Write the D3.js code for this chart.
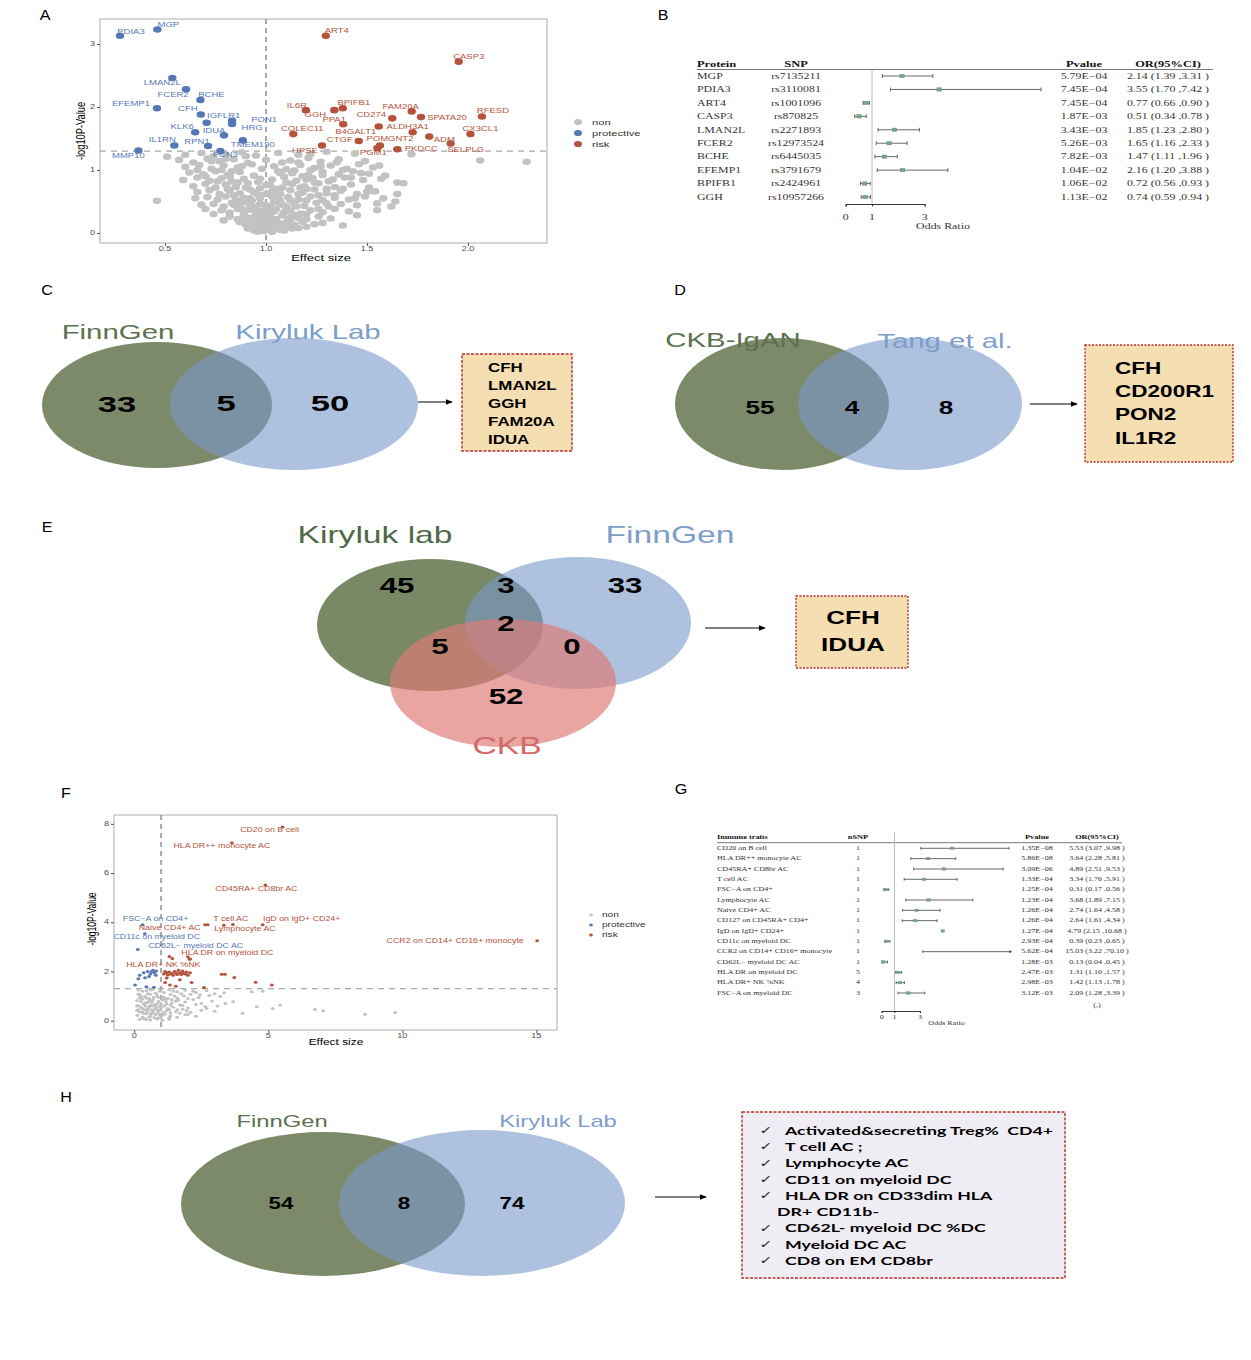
<!DOCTYPE html>
<html>
<head>
<meta charset="utf-8">
<script src="https://cdn.jsdelivr.net/npm/d3@7.9.0/dist/d3.min.js"></script>
<style>
  body { margin: 0; background: #fff; }
  svg { display: block; }
  text { white-space: pre; }
</style>
</head>
<body>
<svg id="fig" width="1251" height="1360"></svg>
<script>
// ---------- data ----------
// Panel A: volcano of proteins (effect size vs -log10 p)
const protNamesA = ['PDIA3','MGP','LMAN2L','FCER2','BCHE','EFEMP1','CFH','IGFLR1','PON1','HRG','KLK6','IDUA','TMEM190','IL1RN','RPN1','FCN3','MMP10'];
const protEffA   = [0.277,0.462,0.536,0.604,0.675,0.46,0.677,0.706,0.832,0.832,0.649,0.792,0.885,0.546,0.713,0.774,0.368];
const protLogPA  = [3.13,3.23,2.46,2.28,2.11,1.98,1.88,1.75,1.78,1.73,1.60,1.55,1.47,1.39,1.38,1.30,1.31];

const riskNamesA = ['ART4','CASP3','IL6R','GGH','BPIFB1','FAM20A','CD274','SPATA20','RFESD','PPA1','ALDH3A1','B4GALT1','CX3CL1','ADM','SELPLG','CTGF','POMGNT2','PGM1','PKDCC','HPSE','COLEC11'];
const riskEffA   = [1.296,1.954,1.197,1.338,1.38,1.721,1.625,1.767,2.069,1.382,1.726,1.558,2.012,1.808,1.914,1.459,1.564,1.551,1.65,1.277,1.135];
const riskLogPA  = [3.13,2.72,1.95,1.95,1.98,1.93,1.82,1.84,1.85,1.725,1.60,1.69,1.57,1.53,1.42,1.46,1.39,1.35,1.33,1.39,1.57];

const grayA = [
  [0.51,1.21],[0.60,1.24],[0.68,1.27],[0.74,1.22],[0.80,1.25],[0.88,1.28],[0.95,1.23],[1.06,1.27],[1.16,1.24],[1.30,1.29],[1.44,1.26],[1.72,1.25],[2.06,1.15],[2.29,1.13],
  [0.57,1.16],[0.64,1.12],[0.71,1.18],[0.77,1.14],[0.84,1.17],[0.91,1.11],[1.12,1.15],[1.21,1.19],[1.27,1.13],[1.36,1.17],[1.56,1.07],[1.49,1.14],
  [0.60,1.05],[0.67,1.08],[0.73,1.02],[0.79,1.07],[0.86,1.04],[0.93,1.09],[1.04,1.06],[1.10,1.01],[1.17,1.08],[1.24,1.03],[1.32,1.07],[1.40,1.02],[1.46,1.09],[1.53,1.04],
  [0.62,0.96],[0.69,0.93],[0.75,0.98],[0.81,0.92],[0.87,0.97],[0.94,0.91],[1.07,0.95],[1.14,0.99],[1.21,0.92],[1.28,0.97],[1.36,0.93],[1.43,0.98],[1.51,0.94],[1.59,0.91],
  [0.59,0.84],[0.66,0.88],[0.72,0.83],[0.78,0.87],[0.83,0.82],[0.89,0.86],[0.96,0.81],[1.03,0.85],[1.09,0.89],[1.15,0.83],[1.23,0.87],[1.31,0.82],[1.39,0.88],[1.48,0.84],[1.57,0.86],[1.65,0.80],
  [0.64,0.74],[0.70,0.78],[0.75,0.72],[0.80,0.77],[0.85,0.73],[0.91,0.79],[0.97,0.71],[1.02,0.76],[1.08,0.72],[1.13,0.78],[1.19,0.74],[1.26,0.79],[1.34,0.73],[1.42,0.77],[1.51,0.72],[1.68,0.79],
  [0.66,0.65],[0.72,0.68],[0.77,0.62],[0.82,0.67],[0.87,0.63],[0.92,0.69],[0.96,0.61],[1.03,0.66],[1.07,0.62],[1.12,0.68],[1.18,0.64],[1.24,0.69],[1.30,0.63],[1.37,0.67],[1.45,0.62],[1.54,0.66],[1.65,0.62],
  [0.46,0.51],[0.71,0.57],[0.76,0.53],[0.80,0.58],[0.85,0.52],[0.89,0.56],[0.93,0.51],[0.97,0.55],[1.03,0.58],[1.07,0.52],[1.11,0.57],[1.16,0.53],[1.22,0.58],[1.28,0.52],[1.34,0.56],[1.41,0.53],[1.49,0.58],[1.64,0.50],
  [0.74,0.46],[0.79,0.42],[0.83,0.48],[0.87,0.44],[0.90,0.49],[0.94,0.41],[0.97,0.46],[1.02,0.43],[1.06,0.48],[1.10,0.42],[1.14,0.47],[1.19,0.43],[1.25,0.48],[1.31,0.42],[1.37,0.46],[1.45,0.44],[1.55,0.47],
  [0.78,0.36],[0.82,0.32],[0.86,0.38],[0.89,0.33],[0.92,0.37],[0.95,0.31],[0.98,0.35],[1.02,0.32],[1.05,0.38],[1.09,0.33],[1.12,0.37],[1.17,0.31],[1.22,0.36],[1.28,0.33],[1.34,0.38],[1.41,0.34],
  [0.82,0.26],[0.86,0.22],[0.89,0.28],[0.92,0.24],[0.95,0.27],[0.97,0.21],[1.02,0.25],[1.05,0.22],[1.08,0.28],[1.11,0.23],[1.15,0.27],[1.20,0.22],[1.26,0.26],[1.32,0.23],
  [0.87,0.17],[0.90,0.13],[0.93,0.18],[0.96,0.12],[0.98,0.16],[1.02,0.14],[1.04,0.19],[1.07,0.12],[1.10,0.17],[1.14,0.13],[1.18,0.18],[1.24,0.14],
  [0.91,0.07],[0.94,0.04],[0.97,0.08],[0.99,0.03],[1.01,0.06],[1.03,0.02],[1.06,0.08],[1.09,0.04],[1.13,0.07],
  [0.65,0.55],[0.68,0.45],[0.70,0.38],[0.74,0.30],[0.79,0.20],[1.38,0.12],[1.45,0.28],[1.55,0.36],[1.62,0.42],[1.58,0.55],
  [0.84,0.60],[0.88,0.52],[0.92,0.44],[0.95,0.38],[0.99,0.28],[1.00,0.12],[1.04,0.34],[1.08,0.45],[1.12,0.52],[1.16,0.62],[1.20,0.70],[1.24,0.80],[1.18,0.90],[1.10,0.80],
  [1.05,0.70],[1.00,0.62],[0.94,0.65],[0.90,0.72],[0.86,0.80],[0.82,0.90],[0.78,1.00],[0.76,0.82],[0.81,0.70],[0.84,0.45],[0.88,0.38],[0.90,0.20],[0.95,0.16],[1.00,0.20],
  [1.06,0.16],[1.12,0.20],[1.16,0.24],[1.20,0.30],[1.26,0.38],[1.30,0.47],[1.34,0.60],[1.38,0.70],[1.33,0.85],[1.28,0.92],[1.22,1.00],[1.16,1.12],[1.08,1.12],[0.98,1.02],
  [0.97,0.86],[1.00,0.76],[1.04,0.50],[1.10,0.36],[1.15,0.42],[1.20,0.52],[1.26,0.60],[1.30,0.70],[1.44,0.55],[1.50,0.65],[1.42,0.88],[1.38,1.00],[1.47,0.95],[1.35,1.12],
  [0.70,0.90],[0.66,1.00],[0.73,1.14],[0.80,1.18],[0.90,1.22],[1.00,1.16],[1.22,1.25],[1.03,0.10],[1.07,0.05],[1.11,0.10],[1.16,0.08],[1.20,0.10],[1.28,0.16],[0.96,0.02],
  [0.93,0.09],[1.01,0.38],[1.13,0.30],[0.92,0.55],[0.99,0.45],[1.06,0.60],[1.17,0.72],[1.06,0.98],[0.88,1.06],[0.83,0.98],[1.27,1.06],[1.20,0.85],[1.13,0.95]
];

// Panel B: protein forest plot
const proteinB = ['MGP','PDIA3','ART4','CASP3','LMAN2L','FCER2','BCHE','EFEMP1','BPIFB1','GGH'];
const snpB     = ['rs7135211','rs3110081','rs1001096','rs870825','rs2271893','rs12973524','rs6445035','rs3791679','rs2424961','rs10957266'];
const pvalB    = ['5.79E−04','7.45E−04','7.45E−04','1.87E−03','3.43E−03','5.26E−03','7.82E−03','1.04E−02','1.06E−02','1.13E−02'];
const orB      = [2.14,3.55,0.77,0.51,1.85,1.65,1.47,2.16,0.72,0.74];
const loB      = [1.39,1.70,0.66,0.34,1.23,1.16,1.11,1.20,0.56,0.59];
const hiB      = [3.31,7.42,0.90,0.78,2.80,2.33,1.96,3.88,0.93,0.94];
const orTicks  = [0, 1, 3];

// Panels C, D, E, H: Venn diagrams
const vennC = { sets: ['FinnGen', 'Kiryluk Lab'], counts: [33, 5, 50], genes: ['CFH','LMAN2L','GGH','FAM20A','IDUA'] };
const vennD = { sets: ['CKB-IgAN', 'Tang et al.'], counts: [55, 4, 8], genes: ['CFH','CD200R1','PON2','IL1R2'] };
const vennE = { sets: ['Kiryluk lab', 'FinnGen', 'CKB'], counts: [45, 3, 33, 2, 5, 0, 52], genes: ['CFH','IDUA'] };
const vennH = { sets: ['FinnGen', 'Kiryluk Lab'], counts: [54, 8, 74] };
const traitsH = [
  ['Activated&secreting Treg%  CD4+'], ['T cell AC ;'], ['Lymphocyte AC'], ['CD11 on myeloid DC'],
  ['HLA DR on CD33dim HLA', 'DR+ CD11b-'], ['CD62L- myeloid DC %DC'], ['Myeloid DC AC'], ['CD8 on EM CD8br']
];

// Panel G: immune-trait forest plot (also the labelled points of panel F)
const traitsG = ['CD20 on B cell','HLA DR++ monocyte AC','CD45RA+ CD8br AC','T cell AC','FSC−A on CD4+','Lymphocyte AC','Naive CD4+ AC','CD127 on CD45RA+ CD4+','IgD on IgD+ CD24+','CD11c on myeloid DC','CCR2 on CD14+ CD16+ monocyte','CD62L− myeloid DC AC','HLA DR on myeloid DC','HLA DR+ NK %NK','FSC−A on myeloid DC'];
const nsnpG  = [1,1,1,1,1,1,1,1,1,1,1,1,5,4,3];
const pvalG  = ['1.35E−08','5.86E−08','3.09E−06','1.33E−04','1.25E−04','1.23E−04','1.26E−04','1.26E−04','1.27E−04','2.93E−04','5.62E−04','1.28E−03','2.47E−03','2.98E−03','3.12E−03'];
const orG    = [5.53,3.64,4.89,3.34,0.31,3.68,2.74,2.64,4.79,0.39,15.03,0.13,1.31,1.42,2.09];
const loG    = [3.07,2.28,2.51,1.76,0.17,1.89,1.64,1.61,2.15,0.23,3.22,0.04,1.10,1.13,1.28];
const hiG    = [9.98,5.81,9.53,5.91,0.56,7.15,4.58,4.34,10.68,0.65,70.10,0.45,1.57,1.78,3.39];
const labelledF = ['CD20 on B cell','HLA DR++ monocyte AC','CD45RA+ CD8br AC','T cell AC','FSC−A on CD4+','Lymphocyte AC','Naive CD4+ AC','IgD on IgD+ CD24+','CD11c on myeloid DC','CCR2 on CD14+ CD16+ monocyte','CD62L− myeloid DC AC','HLA DR on myeloid DC','HLA DR+ NK %NK'];

// Panel F: other significant / non significant immune traits
const riskF = [[1.1,1.9],[1.2,1.95],[1.3,1.98],[1.4,1.92],[1.5,2.0],[1.6,1.88],[1.7,1.95],[1.8,2.02],[1.9,1.9],[2.0,1.85],[2.08,1.95],[1.25,1.86],[1.45,1.85],[1.65,2.05],
  [3.26,1.89],[3.38,1.89],[3.73,1.76],[4.53,1.56],[5.13,1.45],[2.14,1.55],[1.7,1.66],[1.33,1.45],[1.21,1.74],[2.06,2.5],[2.0,2.6],[1.55,1.4],[2.6,1.35],[1.15,1.55],
  [1.35,1.9],[1.55,1.95],[1.75,1.88],[1.95,1.98],[1.15,2.0],[1.85,1.93]];
const protF = [[0.2,1.85],[0.35,1.95],[0.5,2.0],[0.6,1.9],[0.7,2.05],[0.75,1.95],[0.8,1.85],[0.55,1.8],[0.4,1.75],[0.03,1.45],[0.73,1.36],[0.45,1.38],[0.65,2.0],[0.82,2.02],[0.15,1.7]];
const grayF = [
  [0.15,1.25],[0.45,1.22],[0.7,1.28],[0.95,1.2],[1.3,1.26],[1.6,1.18],[1.9,1.24],[2.3,1.15],[2.7,1.22],[3.35,1.14],[4.38,1.18],[4.79,1.2],[3.0,1.1],
  [0.2,1.05],[0.4,0.98],[0.6,1.08],[0.85,1.02],[1.1,0.95],[1.35,1.06],[1.6,0.92],[1.85,1.0],[2.1,1.08],[2.4,0.94],[3.2,0.98],[2.8,1.02],
  [0.1,0.82],[0.3,0.88],[0.5,0.75],[0.7,0.85],[0.9,0.78],[1.15,0.88],[1.4,0.72],[1.65,0.84],[1.9,0.76],[2.2,0.86],[2.5,0.7],[3.69,0.77],[2.9,0.8],
  [0.15,0.62],[0.35,0.68],[0.55,0.55],[0.75,0.65],[0.95,0.58],[1.2,0.68],[1.45,0.55],[1.7,0.64],[2.0,0.52],[2.3,0.66],[2.65,0.58],[4.57,0.57],[5.16,0.5],[5.44,0.64],[6.74,0.46],[3.1,0.6],
  [0.1,0.42],[0.3,0.35],[0.5,0.48],[0.7,0.38],[0.9,0.45],[1.1,0.32],[1.3,0.44],[1.55,0.36],[1.8,0.47],[2.1,0.34],[2.5,0.42],[4.04,0.3],[7.05,0.4],[9.73,0.33],[3.0,0.38],
  [0.12,0.22],[0.3,0.15],[0.45,0.28],[0.62,0.18],[0.8,0.25],[0.98,0.12],[1.15,0.27],[1.35,0.2],[1.6,0.14],[1.9,0.24],[8.61,0.26],[2.3,0.18],
  [0.2,0.05],[0.4,0.08],[0.6,0.03],[0.85,0.07],[1.05,0.02],[1.3,0.06],
  [0.25,0.55],[0.45,0.92],[0.65,0.45],[0.8,1.12],[1.0,0.7],[1.25,0.5],[1.5,1.0],[0.35,0.3],[0.55,0.15],[0.72,0.95],[0.88,0.35],[1.05,0.85],[1.2,0.4],[0.6,0.62],
  [0.4,0.72],[0.95,0.25],[1.7,0.3],[1.4,0.85],[0.2,0.92],[0.5,1.1],[1.8,0.62],[2.0,0.9],[0.3,0.5],[0.68,0.3],[0.82,0.55],[1.12,0.6],[1.35,0.32],[0.15,1.08],
  [0.1,0.6],[0.25,0.78],[0.42,0.6],[0.58,0.82],[0.78,0.48],[0.98,0.42],[1.18,0.78],[1.35,0.64],[1.55,0.8],[1.75,1.1],[2.2,1.2],[0.5,0.38],[0.7,0.6],[0.9,0.95],
  [1.1,1.15],[0.3,1.2],[0.6,1.25],[1.45,1.2],[0.2,0.35],[0.4,0.45],[0.6,0.28],[0.75,0.12],[1.0,0.55],[1.25,0.9],[1.6,0.45],[2.0,0.25],[2.7,0.5],[3.4,0.7],
  [0.35,0.08],[0.55,0.9],[0.85,0.68],[1.05,0.22],[0.15,0.45],[0.65,0.75],[1.3,0.12],[2.45,1.05],[1.95,0.4],[0.45,0.05],[0.25,0.98],[0.9,0.12]
];

// ---------- layout helpers ----------
const SANS = '"Liberation Sans", Arial, Helvetica, sans-serif';
const SERIF = '"Liberation Serif", "Times New Roman", serif';
const SX = 1.4;   // the original figure is stretched horizontally
const BLUE = '#5677b5', RED = '#b4533b', GRAY = '#c2c2c2';

const svg = d3.select('#fig');
svg.append('defs').append('marker')
  .attr('id', 'arrow').attr('viewBox', '0 0 10 10').attr('refX', 9).attr('refY', 5)
  .attr('markerWidth', 7).attr('markerHeight', 7).attr('orient', 'auto')
  .append('path').attr('d', 'M0,1 L10,5 L0,9 Z').attr('fill', '#000');

function txt(p, x, y, s, o = {}) {
  const g = p.append('g')
    .attr('transform', `translate(${x},${y}) scale(${o.sx ?? SX},1)` + (o.rot ? ` rotate(${o.rot})` : ''));
  g.append('text').text(s)
    .attr('text-anchor', o.anchor || 'start')
    .attr('dominant-baseline', 'central')
    .attr('font-family', o.font || SANS)
    .attr('font-size', o.size || 10)
    .attr('font-weight', o.weight || 'normal')
    .attr('fill', o.color || '#000');
  return g;
}

function arrow(x1, x2, y) {
  svg.append('line').attr('x1', x1).attr('x2', x2).attr('y1', y).attr('y2', y)
    .attr('stroke', '#000').attr('stroke-width', 1).attr('marker-end', 'url(#arrow)');
}

function geneBox(b, fill, dash) {
  svg.append('rect').attr('x', b[0]).attr('y', b[1]).attr('width', b[2] - b[0]).attr('height', b[3] - b[1])
    .attr('fill', fill).attr('stroke', '#b8302c').attr('stroke-width', 1.4).attr('stroke-dasharray', dash);
}

// panel letters
[['A',45,15],['B',663,15],['C',47,290],['D',680,290],['E',47,527],['F',66,793],['G',681,789],['H',66,1097]]
  .forEach(([l, x, y]) => txt(svg, x, y, l, { size: 14, sx: 1.15, anchor: 'middle' }));

// ---------- volcano ----------
function volcano(c) {
  const g = svg.append('g');
  const [x0, y0, x1, y1] = c.box;
  const x = d3.scaleLinear().domain(c.xDomain).range([x0, x1]);
  const y = d3.scaleLinear().domain(c.yDomain).range([y1, y0]);

  // threshold lines
  g.append('line').attr('x1', x(1)).attr('x2', x(1)).attr('y1', y0).attr('y2', y1)
    .attr('stroke', '#a8a8a8').attr('stroke-width', 2).attr('stroke-dasharray', '5,4');
  g.append('line').attr('x1', x0).attr('x2', x1).attr('y1', y(-Math.log10(0.05))).attr('y2', y(-Math.log10(0.05)))
    .attr('stroke', '#a8a8a8').attr('stroke-width', 1.2).attr('stroke-dasharray', '6,5');

  const [rx, ry] = c.dot;
  const dots = (arr, col) => g.append('g').selectAll('ellipse').data(arr).join('ellipse')
    .attr('cx', d => x(d[0])).attr('cy', d => y(d[1])).attr('rx', rx).attr('ry', ry).attr('fill', col);
  dots(c.gray, GRAY);
  c.sig.forEach(s => {
    dots(s.eff.map((e, i) => [e, s.logp[i]]), s.color);
    s.names.forEach((n, i) => {
      if (!c.offsets[n]) return;
      const [dx, dy] = c.offsets[n];
      txt(g, x(s.eff[i]) + dx, y(s.logp[i]) + dy, n, { anchor: 'middle', size: c.labelSize, color: s.color });
    });
  });

  g.append('rect').attr('x', x0).attr('y', y0).attr('width', x1 - x0).attr('height', y1 - y0)
    .attr('fill', 'none').attr('stroke', '#9a9a9a').attr('stroke-width', 0.8);
  const ax = g.append('g').attr('transform', `translate(0,${y1})`)
    .call(d3.axisBottom(x).tickValues(c.xTicks).tickSize(3).tickSizeOuter(0).tickFormat(''));
  const ay = g.append('g').attr('transform', `translate(${x0},0)`)
    .call(d3.axisLeft(y).tickValues(c.yTicks).tickSize(3).tickSizeOuter(0).tickFormat(''));
  [ax, ay].forEach(a => { a.select('.domain').remove(); a.selectAll('line').attr('stroke', '#555'); });
  c.xTicks.forEach(v => txt(g, x(v), c.xTickY, c.xFmt(v), { anchor: 'middle', size: c.tickSize, color: '#4d4d4d' }));
  c.yTicks.forEach(v => txt(g, x0 - 5, y(v), String(v), { anchor: 'end', size: c.tickSize, color: '#4d4d4d' }));
  txt(g, c.xTitle[0], c.xTitle[1], 'Effect size', { anchor: 'middle', size: c.titleSize });
  txt(g, c.yTitle[0], c.yTitle[1], '-log10P-Value', { anchor: 'middle', size: c.titleSize, rot: -90 });

  // legend
  const L = c.legend;
  [['non', GRAY], ['protective', BLUE], ['risk', RED]].forEach(([t, col], i) => {
    g.append('ellipse').attr('cx', L.x).attr('cy', L.y + i * L.step).attr('rx', L.dot[0]).attr('ry', L.dot[1]).attr('fill', col);
    txt(g, L.x + L.gap, L.y + i * L.step, t, { size: L.size, color: '#333' });
  });
}

volcano({
  box: [100, 19, 547, 243],
  xDomain: [0.178, 2.391], yDomain: [-0.159, 3.397],
  xTicks: [0.5, 1, 1.5, 2], yTicks: [0, 1, 2, 3], xFmt: d3.format('.1f'),
  xTickY: 249, tickSize: 6.5, titleSize: 9.3, labelSize: 6.8,
  xTitle: [321, 258], yTitle: [80, 131],
  dot: [4.2, 3.3],
  gray: grayA,
  sig: [
    { names: protNamesA, eff: protEffA, logp: protLogPA, color: BLUE },
    { names: riskNamesA, eff: riskEffA, logp: riskLogPA, color: RED }
  ],
  offsets: {
    PDIA3: [11, -4], MGP: [11, -5], LMAN2L: [-10, 5], FCER2: [-13, 6], BCHE: [11, -5], EFEMP1: [-26, -4],
    CFH: [-13, -6], IGFLR1: [17, -7], PON1: [32, -1], HRG: [20, 4], KLK6: [-13, -5], IDUA: [-10, -4],
    TMEM190: [10, 5], IL1RN: [-12, -5], RPN1: [-11, -4], FCN3: [5, 4], MMP10: [-10, 5],
    ART4: [11, -5], CASP3: [10, -5], IL6R: [-9, -4], GGH: [-19, 5], BPIFB1: [11, -5], FAM20A: [-11, -4],
    CD274: [-21, -3], SPATA20: [26, 1], RFESD: [11, -6], PPA1: [-9, -4], ALDH3A1: [-5, -5], B4GALT1: [-23, 5],
    CX3CL1: [10, -5], ADM: [15, 3], SELPLG: [15, 6], CTGF: [-19, -1], POMGNT2: [10, -6], PGM1: [-4, 5],
    PKDCC: [24, 0], HPSE: [-17, 6], COLEC11: [9, -5]
  },
  legend: { x: 578, y: 122, step: 11, gap: 14, size: 8, dot: [4, 3.1] }
});

// panel F: labelled points come from the G table
const lpG = pvalG.map(p => -Math.log10(parseFloat(p.replace('−', '-'))));
const fIdx = traitsG.map((t, i) => i);
const fProt = fIdx.filter(i => orG[i] < 1), fRisk = fIdx.filter(i => orG[i] >= 1);
volcano({
  box: [114, 815, 557, 1030],
  xDomain: [-0.757, 15.77], yDomain: [-0.378, 8.36],
  xTicks: [0, 5, 10, 15], yTicks: [0, 2, 4, 6, 8], xFmt: d3.format('d'),
  xTickY: 1035.5, tickSize: 6.5, titleSize: 8.5, labelSize: 6.3,
  xTitle: [336, 1042], yTitle: [92, 919],
  dot: [1.9, 1.5],
  gray: grayF,
  sig: [
    { names: [], eff: protF.map(d => d[0]), logp: protF.map(d => d[1]), color: BLUE },
    { names: [], eff: riskF.map(d => d[0]), logp: riskF.map(d => d[1]), color: RED },
    { names: fProt.map(i => traitsG[i]), eff: fProt.map(i => orG[i]), logp: fProt.map(i => lpG[i]), color: BLUE },
    { names: fRisk.map(i => traitsG[i]), eff: fRisk.map(i => orG[i]), logp: fRisk.map(i => lpG[i]), color: RED }
  ],
  offsets: Object.fromEntries(labelledF.map(n => [n, {
    'CD20 on B cell': [-13, 3], 'HLA DR++ monocyte AC': [-10, 3], 'CD45RA+ CD8br AC': [-9, 4], 'T cell AC': [7, -6],
    'FSC−A on CD4+': [13, -6], 'Lymphocyte AC': [12, 4], 'Naive CD4+ AC': [-38, 3], 'IgD on IgD+ CD24+': [39, -6],
    'CD11c on myeloid DC': [12, 3], 'CCR2 on CD14+ CD16+ monocyte': [-82, 0], 'CD62L− myeloid DC AC': [58, -4],
    'HLA DR on myeloid DC': [58, -4], 'HLA DR+ NK %NK': [-9, 6]
  }[n]])),
  legend: { x: 591, y: 915, step: 10, gap: 11, size: 7.2, dot: [1.9, 1.5] }
});

// ---------- forest ----------
function forest(c) {
  const g = svg.append('g');
  const n = c.or.length;
  const y = d3.scalePoint().domain(d3.range(n)).range(c.rowRange);
  const x = d3.scaleLinear().domain([0, 3]).range(c.xRange);
  const lim = c.clip ?? Infinity;
  const fo = { font: SERIF, size: c.size, sx: c.sx, color: '#333' };

  c.cols.forEach(col => {
    txt(g, col.x, c.headerY, col.head, { ...fo, size: c.hsize, weight: 'bold', color: '#111', anchor: col.a });
    col.vals.forEach((v, i) => txt(g, col.x, y(i), String(v), { ...fo, anchor: col.a }));
  });
  g.append('line').attr('x1', c.ruleX[0]).attr('x2', c.ruleX[1]).attr('y1', c.ruleY).attr('y2', c.ruleY)
    .attr('stroke', '#555').attr('stroke-width', 0.8);
  g.append('line').attr('x1', x(1)).attr('x2', x(1)).attr('y1', c.refTop).attr('y2', c.refBottom)
    .attr('stroke', '#bbb').attr('stroke-width', 1);

  for (let i = 0; i < n; i++) {
    const yy = y(i);
    const seg = (a, b, capA, capB) => {
      g.append('line').attr('x1', x(a)).attr('x2', x(b)).attr('y1', yy).attr('y2', yy).attr('stroke', '#444').attr('stroke-width', 0.8);
      [[a, capA], [b, capB]].forEach(([v, cap]) => {
        if (cap) g.append('line').attr('x1', x(v)).attr('x2', x(v)).attr('y1', yy - c.cap).attr('y2', yy + c.cap).attr('stroke', '#444').attr('stroke-width', 0.8);
      });
    };
    if (c.or[i] > lim) {
      seg(c.lo[i], lim, true, false);
      g.append('path').attr('d', `M${x(lim)},${yy - 1.6} L${x(lim) + 3},${yy} L${x(lim)},${yy + 1.6} Z`).attr('fill', '#444');
      continue;
    }
    if (c.hi[i] <= lim) seg(c.lo[i], c.hi[i], true, true);
    g.append('rect').attr('x', x(c.or[i]) - c.mark[0] / 2).attr('y', yy - c.mark[1] / 2)
      .attr('width', c.mark[0]).attr('height', c.mark[1])
      .attr('fill', '#79a886').attr('stroke', '#5a8a68').attr('stroke-width', 0.4);
  }

  const ax = g.append('g').attr('transform', `translate(0,${c.axisY})`)
    .call(d3.axisBottom(x).tickValues(orTicks).tickSize(c.tick).tickSizeOuter(c.tick).tickFormat(''));
  ax.selectAll('line, path').attr('stroke', '#222').attr('stroke-width', 0.9);
  orTicks.forEach(v => txt(g, x(v), c.tickLabelY, String(v), { ...fo, anchor: 'middle' }));
  txt(g, c.title[0], c.title[1], 'Odds Ratio', { ...fo, anchor: 'middle' });
  return g;
}

const fmtCI = (o, l, h) => `${o.toFixed(2)} (${l.toFixed(2)} ,${h.toFixed(2)} )`;

forest({
  or: orB, lo: loB, hi: hiB,
  rowRange: [76, 197], xRange: [845.7, 924.7],
  headerY: 63.5, ruleY: 69.5, ruleX: [697, 1213], refTop: 69.5, refBottom: 204,
  axisY: 204, tick: 2.5, tickLabelY: 217, title: [943, 226],
  size: 8.2, hsize: 8.6, sx: 1.45, mark: [4.5, 3.4], cap: 2,
  cols: [
    { x: 697, a: 'start', head: 'Protein', vals: proteinB },
    { x: 796, a: 'middle', head: 'SNP', vals: snpB },
    { x: 1084, a: 'middle', head: 'Pvalue', vals: pvalB },
    { x: 1168, a: 'middle', head: 'OR(95%CI)', vals: orB.map((o, i) => fmtCI(o, loB[i], hiB[i])) }
  ]
});

const gG = forest({
  or: orG, lo: loG, hi: hiG, clip: 10,
  rowRange: [848.3, 993], xRange: [881.7, 919.95],
  headerY: 837.3, ruleY: 842.7, ruleX: [717, 1122], refTop: 832.5, refBottom: 1012,
  axisY: 1011, tick: 2, tickLabelY: 1017.7, title: [946.5, 1023],
  size: 5.9, hsize: 6.1, sx: 1.36, mark: [3.4, 2.4], cap: 1.4,
  cols: [
    { x: 717, a: 'start', head: 'Immune traits', vals: traitsG },
    { x: 858, a: 'middle', head: 'nSNP', vals: nsnpG },
    { x: 1037, a: 'middle', head: 'Pvalue', vals: pvalG },
    { x: 1097, a: 'middle', head: 'OR(95%CI)', vals: orG.map((o, i) => fmtCI(o, loG[i], hiG[i])) }
  ]
});
txt(gG, 1097, 1005.7, '(,)', { font: SERIF, size: 5.9, sx: 1.36, anchor: 'middle', color: '#333' });

// ---------- venn ----------
function venn(sets, counts, v) {
  const g = svg.append('g');
  v.ell.forEach((e, i) => g.append('ellipse').attr('cx', e[0]).attr('cy', e[1]).attr('rx', e[2]).attr('ry', e[3])
    .attr('fill', v.fill[i]).attr('fill-opacity', v.op[i]));
  sets.forEach((s, i) => txt(g, v.lab[i][0], v.lab[i][1], s, { anchor: 'middle', size: v.labSize, color: v.labCol[i] }));
  counts.forEach((n, i) => txt(g, v.num[i][0], v.num[i][1], String(n), { anchor: 'middle', size: v.numSize, weight: 'bold', sx: v.numSx ?? SX }));
}

// C
venn(vennC.sets, vennC.counts, {
  ell: [[157, 405, 115, 63], [294, 404, 124, 66]],
  fill: ['#7d8a69', '#7897c9'], op: [1, 0.6],
  lab: [[118, 332], [308, 332]], labCol: ['#5b7150', '#7d9dcb'], labSize: 21,
  num: [[117, 404], [226, 403], [330, 403]], numSize: 23, numSx: 1.5
});
arrow(418, 452, 402);
geneBox([462, 354, 572, 451], '#f4deb2', '3,1.5');
vennC.genes.forEach((t, i) => txt(svg, 488, 367 + i * 18, t, { size: 13, weight: 'bold', sx: 1.3 }));

// D
venn(vennD.sets, vennD.counts, {
  ell: [[782, 404, 107, 66], [910, 404, 112, 66]],
  fill: ['#7d8a69', '#7897c9'], op: [1, 0.6],
  lab: [[733, 340], [945, 341]], labCol: ['#5b7150', '#7d9dcb'], labSize: 21,
  num: [[760, 408], [852, 408], [946, 408]], numSize: 18, numSx: 1.45
});
arrow(1030, 1077, 404);
geneBox([1085, 345, 1233, 462], '#f4deb2', '2,1.5');
vennD.genes.forEach((t, i) => txt(svg, 1115, 368 + i * 23.3, t, { size: 16, weight: 'bold', sx: 1.41 }));

// E
venn(vennE.sets, vennE.counts, {
  ell: [[430, 625, 113, 66], [578, 623, 113, 66], [503, 683, 113, 64]],
  fill: ['#798965', '#7897c9', '#dd7a76'], op: [1, 0.6, 0.68],
  lab: [[375, 535], [670, 535], [507, 746]], labCol: ['#4f6a45', '#7d9dcb', '#d36a68'], labSize: 24,
  num: [[397, 586], [506, 586], [625, 586], [506, 624], [440, 647], [572, 647], [506, 697]], numSize: 22, numSx: 1.42
});
arrow(705, 765, 628);
geneBox([796, 596, 908, 668], '#f4deb2', '2,1.5');
vennE.genes.forEach((t, i) => txt(svg, 853, 618 + i * 27, t, { size: 18, weight: 'bold', sx: 1.45, anchor: 'middle' }));

// H
venn(vennH.sets, vennH.counts, {
  ell: [[323, 1204, 142, 72], [482, 1203, 143, 73]],
  fill: ['#7d8a69', '#7897c9'], op: [1, 0.6],
  lab: [[282, 1121], [558, 1121]], labCol: ['#5b7150', '#7d9dcb'], labSize: 17,
  num: [[281, 1203], [404, 1203], [512, 1203]], numSize: 16, numSx: 1.4
});
arrow(655, 706, 1197);
geneBox([742, 1112, 1065, 1278], '#efedf3', '3,1.5');
{
  let row = 0;
  traitsH.forEach(lines => {
    lines.forEach((t, j) => {
      const yy = 1130 + row * 16.25;
      if (j === 0) txt(svg, 766, yy, '✓', { font: '"DejaVu Sans", sans-serif', size: 11, sx: 1.45, anchor: 'middle', color: '#222' });
      txt(svg, j === 0 ? 785 : 777, yy, t, { font: 'Lato, "Open Sans", sans-serif', size: 12, weight: 'bold', sx: 1.48 });
      row++;
    });
  });
}
</script>
</body>
</html>
